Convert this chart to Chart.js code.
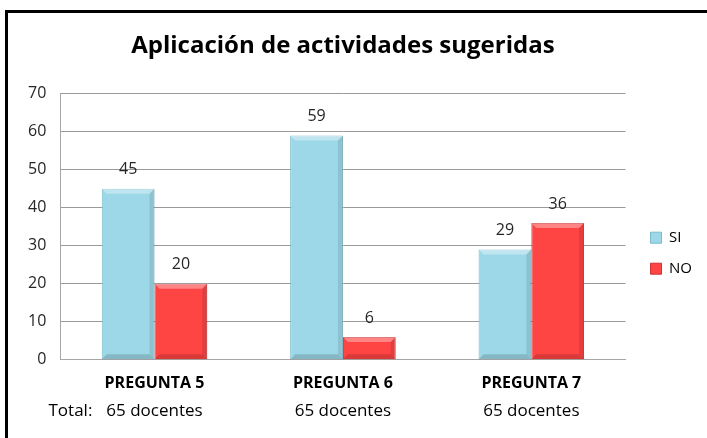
<!DOCTYPE html>
<html>
<head>
<meta charset="utf-8">
<script src="https://cdn.jsdelivr.net/npm/chart.js@4/dist/chart.umd.min.js"></script>
<style>
    body { margin: 0; background: #fff; overflow: hidden; }
    #frame {
        position: absolute; left: 5px; top: 10px;
        width: 720px; height: 450px;
        border: 3px solid #000;
    }
    #chart { position: absolute; left: 0; top: 0; }
</style>
</head>
<body>
<div id="frame"></div>
<canvas id="chart" width="707" height="438"></canvas>
<script>
const categories = ["PREGUNTA 5", "PREGUNTA 6", "PREGUNTA 7"]
const totals = ["65 docentes", "65 docentes", "65 docentes"]
const siValues = [45, 59, 29]
const noValues = [20, 6, 36]

const FONT = "'Open Sans', sans-serif"

// value labels on top of each bar
const valueLabels = {
    id: "valueLabels",
    afterDatasetsDraw(chart) {
        const ctx = chart.ctx
        ctx.save()
        ctx.font = "16px " + FONT
        ctx.fillStyle = "#262626"
        ctx.textAlign = "center"
        ctx.textBaseline = "bottom"
        chart.data.datasets.forEach((ds, i) => {
            chart.getDatasetMeta(i).data.forEach((bar, j) => {
                ctx.fillText(ds.data[j], bar.x, bar.y - 11)
            })
        })
        ctx.restore()
    },
}

// light bevel on bars
const bevel = {
    id: "bevel",
    afterDatasetsDraw(chart) {
        const ctx = chart.ctx
        ctx.save()
        chart.data.datasets.forEach((ds, i) => {
            chart.getDatasetMeta(i).data.forEach((bar) => {
                const left = bar.x - bar.width / 2
                const right = bar.x + bar.width / 2
                const top = bar.y
                const bottom = bar.base
                const b = Math.min(5, (bottom - top) / 2)
                ctx.fillStyle = "rgba(255,255,255,0.35)"
                ctx.beginPath()
                ctx.moveTo(left, top)
                ctx.lineTo(right, top)
                ctx.lineTo(right - b, top + b)
                ctx.lineTo(left + b, top + b)
                ctx.closePath()
                ctx.fill()
                ctx.fillStyle = "rgba(0,0,0,0.10)"
                ctx.beginPath()
                ctx.moveTo(right, top)
                ctx.lineTo(right, bottom)
                ctx.lineTo(right - b, bottom - b)
                ctx.lineTo(right - b, top + b)
                ctx.closePath()
                ctx.fill()
                ctx.fillStyle = "rgba(0,0,0,0.15)"
                ctx.beginPath()
                ctx.moveTo(left, bottom)
                ctx.lineTo(right, bottom)
                ctx.lineTo(right - b, bottom - b)
                ctx.lineTo(left + b, bottom - b)
                ctx.closePath()
                ctx.fill()
            })
        })
        ctx.restore()
    },
}

// second row under the category names: "Total:  65 docentes"
const totalRow = {
    id: "totalRow",
    afterDraw(chart) {
        const ctx = chart.ctx
        const x = chart.scales.x
        const y = chart.chartArea.bottom + 51
        ctx.save()
        ctx.font = "17px " + FONT
        ctx.fillStyle = "#000"
        ctx.textBaseline = "middle"
        ctx.textAlign = "center"
        totals.forEach((t, i) => {
            ctx.fillText(t, x.getPixelForTick(i), y)
        })
        const first = x.getPixelForTick(0) - ctx.measureText(totals[0]).width / 2
        ctx.textAlign = "right"
        ctx.fillText("Total:", first - 14, y)
        ctx.restore()
    },
}

new Chart(document.getElementById("chart"), {
    type: "bar",
    data: {
        labels: categories,
        datasets: [
            {
                label: "SI",
                data: siValues,
                backgroundColor: "#9dd8e8",
                borderColor: "#78b9ca",
                borderWidth: 1,
            },
            {
                label: "NO",
                data: noValues,
                backgroundColor: "#ff4444",
                borderColor: "#cc3333",
                borderWidth: 1,
            },
        ],
    },
    options: {
        responsive: false,
        animation: false,
        layout: { padding: { left: 14, right: 5, top: 10, bottom: 39 } },
        datasets: {
            bar: { categoryPercentage: 0.56, barPercentage: 1 },
        },
        scales: {
            x: {
                grid: { display: false },
                border: { color: "#a6a6a6" },
                ticks: {
                    color: "#000",
                    font: { family: FONT, size: 16, weight: "bold" },
                    padding: 6,
                },
            },
            y: {
                min: 0,
                max: 70,
                grid: { color: "#9a9a9a", drawTicks: false },
                border: { color: "#a6a6a6" },
                ticks: {
                    stepSize: 10,
                    color: "#262626",
                    font: { family: FONT, size: 16 },
                    padding: 14,
                },
            },
            // empty spacer between the plot and the legend
            gap: {
                type: "linear",
                position: "right",
                grid: { display: false },
                border: { display: false },
                ticks: { display: false },
                afterFit: (s) => { s.width = 9 },
            },
        },
        plugins: {
            title: {
                display: true,
                fullSize: false,
                text: "Aplicación de actividades sugeridas",
                color: "#000",
                font: { family: FONT, size: 24, weight: "bold" },
                padding: { top: 22, bottom: 33 },
            },
            legend: {
                position: "right",
                fullSize: false,
                title: {
                    display: true,
                    text: " ",
                    font: { size: 14 },
                    padding: { top: 36, bottom: 0 },
                },
                labels: {
                    color: "#000",
                    font: { family: FONT, size: 15 },
                    boxWidth: 11,
                    boxHeight: 11,
                    padding: 16,
                },
            },
            tooltip: { enabled: false },
        },
    },
    plugins: [bevel, valueLabels, totalRow],
})
</script>
</body>
</html>
